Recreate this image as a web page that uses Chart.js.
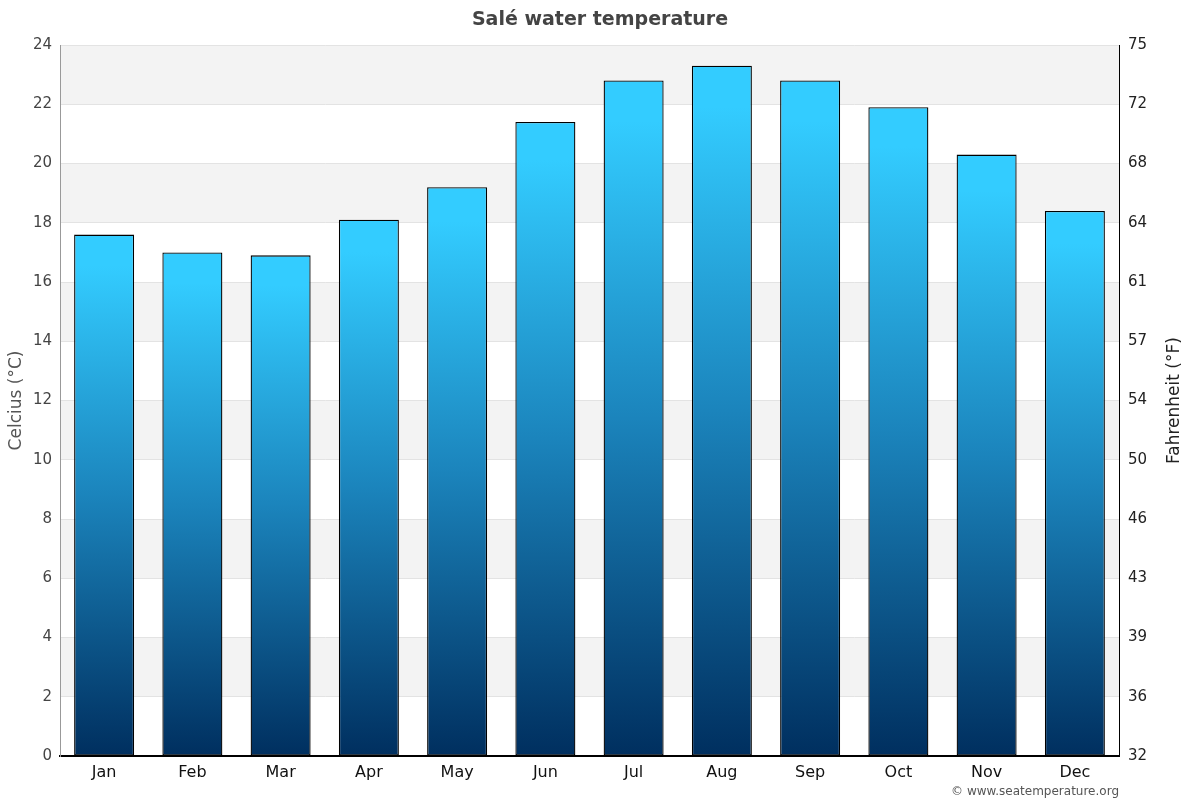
<!DOCTYPE html>
<html>
<head>
<meta charset="utf-8">
<script src="https://cdn.jsdelivr.net/npm/chart.js@4/dist/chart.umd.min.js"></script>
<style>
html,body{margin:0;padding:0;background:#fff;}
#wrap{width:1200px;height:800px;position:relative;}
</style>
</head>
<body>
<div id="wrap"><canvas id="c" width="1200" height="800"></canvas></div>
<script>
const months = ['Jan','Feb','Mar','Apr','May','Jun','Jul','Aug','Sep','Oct','Nov','Dec'];
const waterTempC = [17.6, 17.0, 16.9, 18.1, 19.2, 21.4, 22.8, 23.3, 22.8, 21.9, 20.3, 18.4];
const celsiusTicks = [0,2,4,6,8,10,12,14,16,18,20,22,24];
const fahrenheitTicks = ['32','36','39','43','46','50','54','57','61','64','68','72','75'];
const chartTitle = 'Salé water temperature';
const leftTitle = 'Celcius (°C)';
const rightTitle = 'Fahrenheit (°F)';
const credit = '© www.seatemperature.org';
const FONT = "'DejaVu Sans', sans-serif";

function barGradient(ctx) {
  const chart = ctx.chart;
  if (!chart.chartArea || ctx.type !== 'data') return '#2299cc';
  const ys = chart.scales.y;
  const top = ys.getPixelForValue(ctx.raw);
  const bottom = ys.getPixelForValue(0);
  const g = chart.ctx.createLinearGradient(0, top, 0, bottom);
  g.addColorStop(0, '#33ccff');
  g.addColorStop(0.06, '#33ccff');
  g.addColorStop(0.5, '#1b84bc');
  g.addColorStop(1, '#002f5f');
  return g;
}

const decor = {
  id: 'decor',
  beforeDraw(chart) {
    const {ctx, chartArea: a, scales} = chart;
    ctx.save();
    ctx.fillStyle = '#fff';
    ctx.fillRect(0, 0, chart.width, chart.height);
    ctx.fillStyle = '#f3f3f3';
    for (let i = 0; i < celsiusTicks.length - 1; i++) {
      const lo = celsiusTicks[i], hi = celsiusTicks[i + 1];
      if (i % 2 === 1) {
        const y1 = scales.y.getPixelForValue(hi), y2 = scales.y.getPixelForValue(lo);
        ctx.fillRect(a.left, y1, a.right - a.left, y2 - y1);
      }
    }
    ctx.restore();
  },
  afterDraw(chart) {
    const {ctx, chartArea: a} = chart;
    ctx.save();
    ctx.fillStyle = '#444';
    ctx.font = "bold 19px " + FONT;
    ctx.textAlign = 'center';
    ctx.textBaseline = 'middle';
    ctx.fillText(chartTitle, chart.width / 2, 20);
    ctx.fillStyle = '#222';
    ctx.font = "17px " + FONT;
    ctx.translate(1175, (a.top + a.bottom) / 2);
    ctx.rotate(-Math.PI / 2);
    ctx.fillText(rightTitle, 0, 0);
    ctx.restore();
    ctx.save();
    ctx.fillStyle = '#555';
    ctx.font = "12px " + FONT;
    ctx.textAlign = 'right';
    ctx.textBaseline = 'middle';
    ctx.fillText(credit, a.right, 792);
    ctx.restore();
  }
};

new Chart(document.getElementById('c'), {
  type: 'bar',
  data: {
    labels: months,
    datasets: [{
      data: waterTempC,
      backgroundColor: barGradient,
      borderColor: '#000',
      borderWidth: 1.3,
      borderSkipped: false,
      barPercentage: 0.68,
      categoryPercentage: 1.0,
      yAxisID: 'y'
    }]
  },
  options: {
    responsive: false,
    animation: false,
    devicePixelRatio: 1,
    layout: {padding: {top: 45, right: 0, bottom: 0, left: 0}},
    plugins: {legend: {display: false}, title: {display: false}, tooltip: {enabled: false}},
    scales: {
      x: {
        grid: {display: false, drawTicks: false},
        border: {display: true, color: '#000', width: 2},
        ticks: {color: '#111', font: {family: FONT, size: 16}, padding: 7},
        afterFit(s) { s.height = 44; }
      },
      y: {
        position: 'left',
        min: 0, max: 24,
        afterBuildTicks(s) { s.ticks = celsiusTicks.map(v => ({value: v})); },
        grid: {color: '#e3e3e3', drawTicks: false},
        border: {display: true, color: '#999', width: 1},
        ticks: {color: '#444', font: {family: FONT, size: 15}, padding: 8},
        title: {display: true, text: leftTitle, color: '#555', font: {family: FONT, size: 17}, padding: {top: 6, bottom: 0}},
        afterFit(s) { s.width = 60; }
      },
      y1: {
        position: 'right',
        min: 0, max: 24,
        afterBuildTicks(s) { s.ticks = celsiusTicks.map(v => ({value: v})); },
        grid: {display: false, drawTicks: false},
        border: {display: true, color: '#000', width: 1},
        ticks: {color: '#222', font: {family: FONT, size: 15}, padding: 9,
          callback: (v, i) => fahrenheitTicks[i]},
        afterFit(s) { s.width = 81; }
      }
    }
  },
  plugins: [decor]
});
</script>
</body>
</html>
